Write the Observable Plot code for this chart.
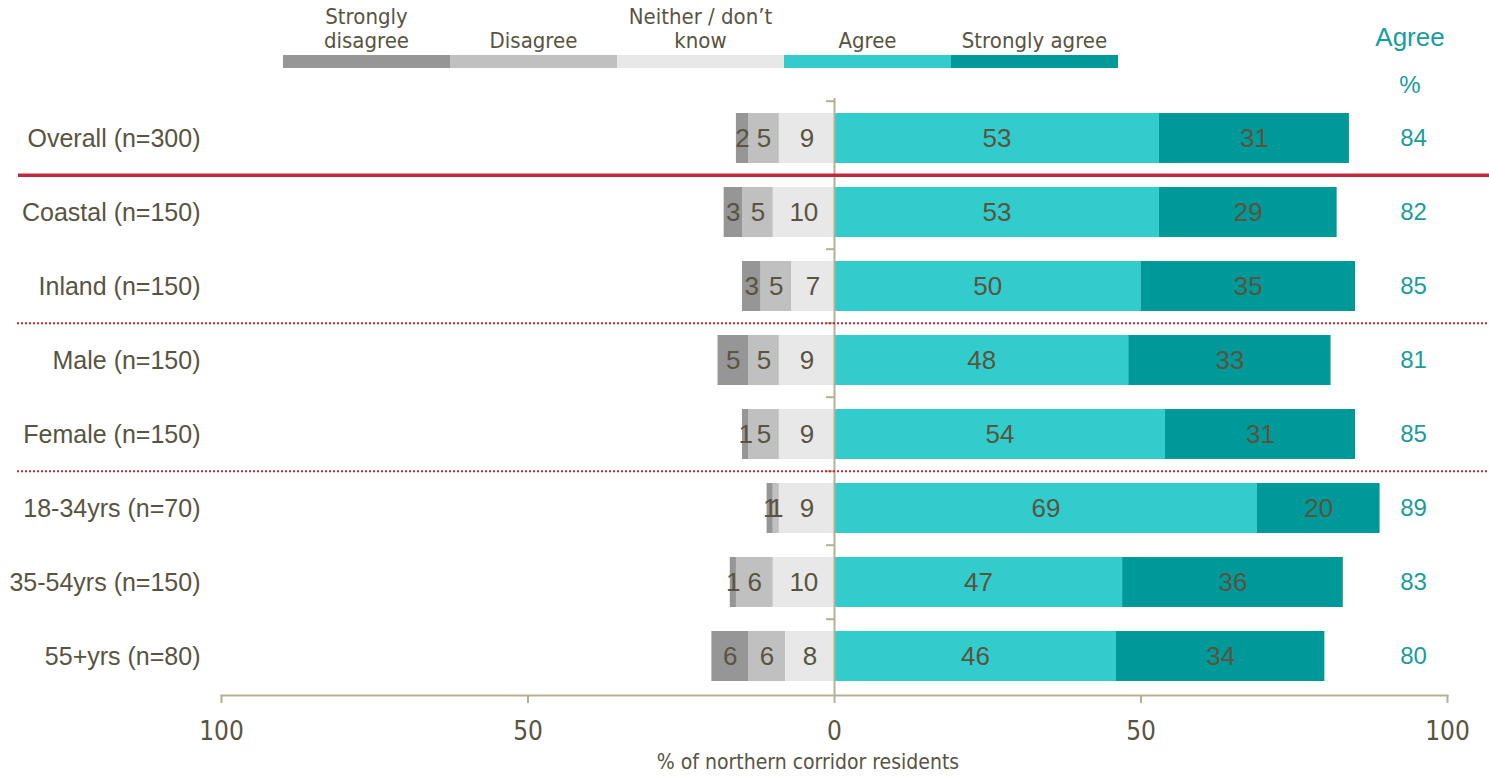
<!DOCTYPE html>
<html>
<head>
<meta charset="utf-8">
<script src="https://cdn.jsdelivr.net/npm/d3@7"></script>
<script src="https://cdn.jsdelivr.net/npm/@observablehq/plot@0.6"></script>
<style>
  html, body { margin: 0; padding: 0; background: #fff; }
  #wrap { position: relative; width: 1489px; height: 780px; overflow: hidden; }
  #chart { position: absolute; left: 0; top: 0; }
  .narrow { font-family: "Liberation Sans Narrow", "DejaVu Sans Condensed", sans-serif; color: #59543f; }
  #legend { position: absolute; left: 283px; top: 0; display: flex; }
  .litem { width: 167px; display: flex; flex-direction: column; }
  .llabel { height: 55px; display: flex; align-items: flex-end; justify-content: center; text-align: center;
            font-size: 22px; line-height: 24px; white-space: pre-line; padding-bottom: 2px; box-sizing: border-box; }
  .lswatch { height: 13px; }
  .hdr { position: absolute; font-family: "Liberation Sans", Arial, sans-serif; color: #1a9c9c; transform: translate(-50%, -50%); }
  #xtitle { position: absolute; left: 808px; top: 762px; transform: translate(-50%, -50%); font-size: 21px; white-space: nowrap; }
</style>
</head>
<body>
<div id="wrap">
  <div id="chart"></div>
  <div id="legend" class="narrow"></div>
  <div class="hdr" id="hAgree" style="left:1410px;top:37px;font-size:26px">Agree</div>
  <div class="hdr" id="hPct" style="left:1410px;top:85px;font-size:24px">%</div>
  <div id="xtitle" class="narrow">% of northern corridor residents</div>
</div>
<script>
// ---- data ----
const categories = ["Overall (n=300)", "Coastal (n=150)", "Inland (n=150)", "Male (n=150)", "Female (n=150)", "18-34yrs (n=70)", "35-54yrs (n=150)", "55+yrs (n=80)"];
const responses = ["Strongly disagree", "Disagree", "Neither / don’t know", "Agree", "Strongly agree"];
const legendLabels = ["Strongly\ndisagree", "Disagree", "Neither / don’t\nknow", "Agree", "Strongly agree"];
const stronglyDisagree = [2, 3, 3, 5, 1, 1, 1, 6];
const disagree = [5, 5, 5, 5, 5, 1, 6, 6];
const neither = [9, 10, 7, 9, 9, 9, 10, 8];
const agree = [53, 53, 50, 48, 54, 69, 47, 46];
const stronglyAgree = [31, 29, 35, 33, 31, 20, 36, 34];
const agreeTotal = [84, 82, 85, 81, 85, 89, 83, 80];
const xTicks = [-100, -50, 0, 50, 100];
const separators = [
  {before: "Coastal (n=150)", kind: "solid"},
  {before: "Male (n=150)", kind: "dotted"},
  {before: "18-34yrs (n=70)", kind: "dotted"}
];

// ---- styles ----
const colors = ["#969696", "#c0c0c0", "#e8e8e8", "#33cccc", "#009999"];
const textColor = "#59543f";
const axisColor = "#b5b292";
const teal = "#1a9c9c";
const red = "#c0283d";

// ---- layout ----
const W = 1489, H = 780;
const mTop = 98, mBottom = 85, mLeft = 221, mRight = 42;
const step = (H - mTop - mBottom) / categories.length;

// ---- table (negative side ordered from zero outward) ----
const rows = [];
categories.forEach((c, i) => {
  rows.push({category: c, response: responses[2], value: -neither[i], label: neither[i]});
  rows.push({category: c, response: responses[1], value: -disagree[i], label: disagree[i]});
  rows.push({category: c, response: responses[0], value: -stronglyDisagree[i], label: stronglyDisagree[i]});
  rows.push({category: c, response: responses[3], value: agree[i], label: agree[i]});
  rows.push({category: c, response: responses[4], value: stronglyAgree[i], label: stronglyAgree[i]});
});

const chart = Plot.plot({
  width: W, height: H,
  marginTop: mTop, marginBottom: mBottom, marginLeft: mLeft, marginRight: mRight,
  style: {fontFamily: "'Liberation Sans', Arial, sans-serif", color: textColor, background: "transparent", overflow: "visible"},
  x: {domain: [-100, 100], axis: null},
  y: {domain: categories, paddingInner: 0.33, paddingOuter: 0.165, axis: null},
  color: {domain: responses, range: colors},
  marks: [
    Plot.barX(rows, Plot.stackX({x: "value", y: "category", z: "response", fill: "response"})),
    Plot.textX(rows, Plot.stackX({x: "value", y: "category", z: "response", text: "label", fill: textColor, fontSize: 26})),
    Plot.ruleX([0], {stroke: axisColor, strokeWidth: 2}),
    Plot.ruleY(categories, {y: d => d, dy: -step / 2, x1: 0, x2: 0, insetLeft: -8, stroke: axisColor, strokeWidth: 2}),
    Plot.axisX(xTicks, {tickSize: 8, tickPadding: 18, tickFormat: d => Math.abs(d), stroke: axisColor, strokeWidth: 2,
      fill: textColor, fontSize: 26, fontFamily: "'Liberation Sans Narrow', 'DejaVu Sans Condensed', sans-serif", label: null}),
    Plot.frame({anchor: "bottom", stroke: axisColor, strokeWidth: 2}),
    Plot.axisY(categories, {tickSize: 0, tickPadding: 21, fontSize: 25, fill: textColor, label: null}),
    Plot.text(categories, {y: d => d, text: (d, i) => agreeTotal[i], frameAnchor: "right", textAnchor: "middle", dx: -34, fill: teal, fontSize: 24}),
    Plot.ruleY(separators.filter(s => s.kind === "solid"), {y: "before", dy: -step / 2, stroke: red, strokeWidth: 3.5, insetLeft: -203, insetRight: -42}),
    Plot.ruleY(separators.filter(s => s.kind === "dotted"), {y: "before", dy: -step / 2, stroke: red, strokeWidth: 2, strokeDasharray: "2,2", insetLeft: -204, insetRight: -42})
  ]
});
document.getElementById("chart").appendChild(chart);

// ---- legend ----
const legend = document.getElementById("legend");
responses.forEach((r, i) => {
  const item = document.createElement("div");
  item.className = "litem";
  const lab = document.createElement("div");
  lab.className = "llabel";
  lab.textContent = legendLabels[i];
  const sw = document.createElement("div");
  sw.className = "lswatch";
  sw.style.background = colors[i];
  item.appendChild(lab);
  item.appendChild(sw);
  legend.appendChild(item);
});
</script>
</body>
</html>
